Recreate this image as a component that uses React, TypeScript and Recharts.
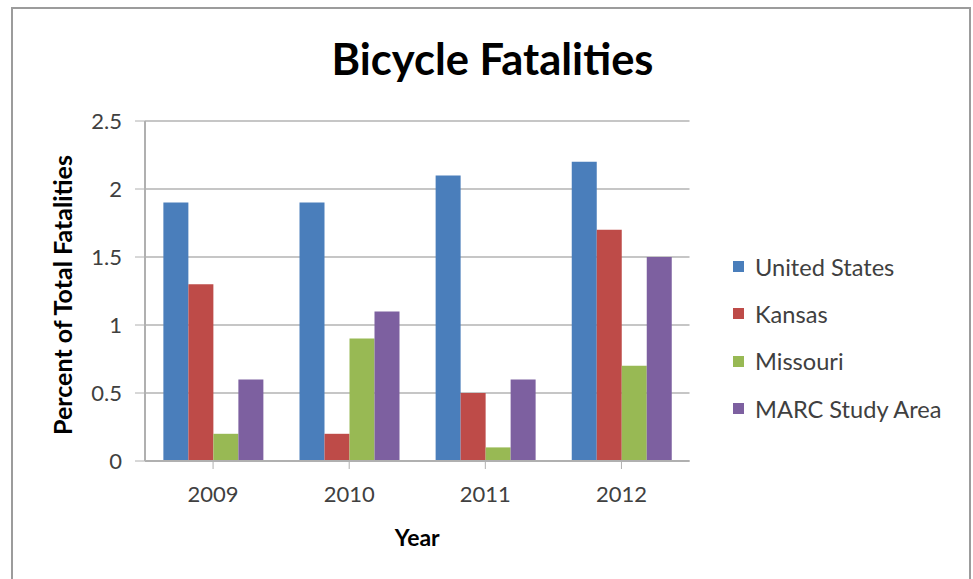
import React from "react";
import { BarChart, Bar, XAxis, YAxis, CartesianGrid, Legend, Label } from "recharts";

const years = ["2009", "2010", "2011", "2012"];
const unitedStates = [1.9, 1.9, 2.1, 2.2];
const kansas = [1.3, 0.2, 0.5, 1.7];
const missouri = [0.2, 0.9, 0.1, 0.7];
const marcStudyArea = [0.6, 1.1, 0.6, 1.5];
const yTicks = [0, 0.5, 1, 1.5, 2, 2.5];

const seriesInfo = [
  { key: "us", name: "United States", color: "#4A7EBB" },
  { key: "ks", name: "Kansas", color: "#BE4B48" },
  { key: "mo", name: "Missouri", color: "#98B954" },
  { key: "marc", name: "MARC Study Area", color: "#7D60A0" },
];

const data = years.map((year, i) => ({
  year,
  us: unitedStates[i],
  ks: kansas[i],
  mo: missouri[i],
  marc: marcStudyArea[i],
}));

const FONT = "Lato, 'Open Sans', sans-serif";

const LegendContent = () => (
  <div style={{ fontFamily: FONT }}>
    {seriesInfo.map((s) => (
      <div
        key={s.key}
        style={{ display: "flex", alignItems: "center", height: 47.3, fontSize: 23.6, color: "#404040" }}
      >
        <span
          style={{
            display: "inline-block",
            width: 11,
            height: 11,
            background: s.color,
            marginRight: 11,
          }}
        />
        {s.name}
      </div>
    ))}
  </div>
);

const YTitle = (props: any) => {
  const vb = props.viewBox || { x: 0, y: 0, width: 0, height: 0 };
  const cx = vb.x - 23;
  const cy = vb.y + vb.height / 2 + 4;
  return (
    <text
      x={cx}
      y={cy}
      transform={`rotate(-90, ${cx}, ${cy})`}
      textAnchor="middle"
      dominantBaseline="central"
      fill="#000"
      fontSize={25}
      fontWeight={700}
      fontFamily={FONT}
    >
      Percent of Total Fatalities
    </text>
  );
};

export default function App() {
  return (
    <div
      style={{
        position: "absolute",
        left: 0,
        top: 0,
        width: 973,
        height: 579,
        background: "#fff",
        overflow: "hidden",
      }}
    >
      <div
        style={{
          position: "absolute",
          left: 11,
          top: 7,
          width: 960,
          height: 600,
          border: "2px solid #9c9c9c",
          boxSizing: "border-box",
        }}
      />
      <div
        style={{
          position: "absolute",
          left: 0,
          top: 32,
          width: 985,
          textAlign: "center",
          fontFamily: FONT,
          fontWeight: 700,
          fontSize: 43.5,
          color: "#000",
        }}
      >
        Bicycle Fatalities
      </div>
      <BarChart
        width={973}
        height={579}
        data={data}
        margin={{ top: 121, right: 283.5, bottom: 80, left: 85 }}
        barCategoryGap="13.5%"
        barGap={0}
        style={{ position: "absolute", left: 0, top: 0 }}
      >
        <CartesianGrid vertical={false} stroke="#c6c6c6" strokeWidth={2} />
        <XAxis
          dataKey="year"
          height={38}
          tickLine={{ stroke: "#b0b0b0" }}
          tickSize={8}
          axisLine={{ stroke: "#b0b0b0", strokeWidth: 2 }}
          tick={{ fill: "#404040", fontSize: 22, fontFamily: FONT, dy: 15 }}
        >
          <Label
            value="Year"
            position="insideBottom"
            offset={-47}
            fill="#000"
            fontSize={23}
            fontWeight={700}
            fontFamily={FONT}
          />
        </XAxis>
        <YAxis
          width={60}
          domain={[0, 2.5]}
          ticks={yTicks}
          interval={0}
          tickLine={{ stroke: "#b0b0b0" }}
          tickSize={10}
          axisLine={{ stroke: "#b0b0b0", strokeWidth: 2 }}
          tick={{ fill: "#404040", fontSize: 22, fontFamily: FONT, dx: -11 }}
        >
          <Label content={<YTitle />} />
        </YAxis>
        <Legend
          layout="vertical"
          align="center"
          verticalAlign="middle"
          content={<LegendContent />}
          wrapperStyle={{ left: 733, top: 243, width: 240 }}
        />
        {seriesInfo.map((s) => (
          <Bar key={s.key} dataKey={s.key} name={s.name} fill={s.color} isAnimationActive={false} />
        ))}
      </BarChart>
    </div>
  );
}
